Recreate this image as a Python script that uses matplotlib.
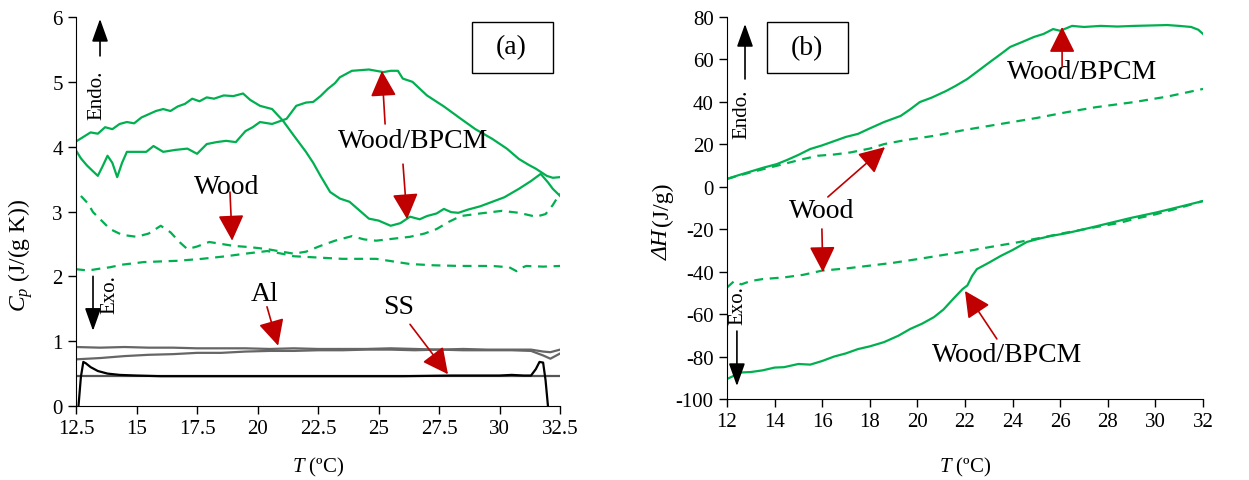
import matplotlib
matplotlib.use("Agg")
import matplotlib.pyplot as plt
from matplotlib.patches import Rectangle

plt.rcParams['font.family'] = ['Liberation Serif', 'DejaVu Serif']
plt.rcParams['mathtext.fontset'] = 'custom'
plt.rcParams['mathtext.rm'] = 'Liberation Serif'
plt.rcParams['mathtext.it'] = 'Liberation Serif:italic'
plt.rcParams['axes.unicode_minus'] = False

# ---- panel (a): Cp vs T ----
tA = [12.5,12.8,13.1,13.4,13.7,14.0,14.3,14.6,14.9,15.2,15.5,15.8,16.1,16.4,16.7,17.0,17.3,17.6,17.9,18.2,18.6,19.0,19.4,19.7,20.1,20.6,21.05,21.5,22.0,22.3,22.6,23.0,23.4,23.8,24.2,24.6,25.0,25.5,25.9,26.3,26.7,27.0,27.4,27.7,28.0,28.3,28.7,29.2,29.7,30.2,30.8,31.3,31.7,32.0,32.2,32.5]
cpA = [4.08,4.15,4.22,4.2,4.3,4.27,4.35,4.38,4.36,4.45,4.5,4.55,4.58,4.55,4.62,4.66,4.74,4.7,4.76,4.74,4.79,4.78,4.82,4.72,4.63,4.58,4.40,4.17,3.92,3.75,3.55,3.30,3.20,3.15,3.02,2.89,2.86,2.78,2.82,2.92,2.88,2.93,2.97,3.04,2.99,2.98,3.03,3.08,3.15,3.22,3.35,3.47,3.58,3.45,3.35,3.24]

tB = [12.5,12.7,12.95,13.2,13.4,13.6,13.8,14.0,14.2,14.4,14.6,15.0,15.4,15.7,16.1,16.6,17.1,17.5,17.9,18.3,18.7,19.1,19.5,19.8,20.1,20.6,21.2,21.6,22.0,22.3,22.6,22.9,23.2,23.4,23.9,24.6,25.2,25.5,25.8,26.0,26.4,27.0,27.7,28.4,29.0,29.7,30.3,30.8,31.2,31.5,31.95,32.2,32.5]
cpB = [3.94,3.82,3.71,3.62,3.55,3.7,3.86,3.75,3.53,3.75,3.92,3.92,3.92,4.01,3.92,3.95,3.97,3.89,4.04,4.07,4.09,4.07,4.24,4.3,4.38,4.35,4.43,4.63,4.68,4.69,4.78,4.89,4.98,5.07,5.17,5.19,5.15,5.17,5.17,5.05,5.0,4.79,4.62,4.43,4.27,4.12,3.97,3.81,3.72,3.66,3.55,3.52,3.53]

tW1 = [12.7,13.0,13.2,13.5,13.9,14.4,15.0,15.5,16.0,16.4,16.8,17.1,17.5,18.0,18.5,19.0,19.7,20.4,21.0,21.5,22.0,22.6,23.2,23.9,24.4,24.9,25.6,26.3,26.9,27.4,27.9,28.4,29.2,30.1,30.8,31.5,31.9,32.2,32.5]
cpW1 = [3.24,3.12,2.99,2.88,2.73,2.64,2.61,2.66,2.78,2.68,2.52,2.42,2.46,2.53,2.50,2.47,2.45,2.42,2.38,2.35,2.38,2.47,2.55,2.62,2.57,2.55,2.58,2.61,2.66,2.73,2.84,2.93,2.97,3.01,2.98,2.92,2.96,3.10,3.28]

tW2 = [12.5,13.0,13.5,13.9,14.4,15.3,16.0,16.7,17.7,18.7,19.5,20.4,21.0,21.5,22.5,23.5,24.9,25.6,26.3,27.3,28.4,29.7,30.4,30.7,30.9,31.1,31.8,32.5]
cpW2 = [2.11,2.09,2.12,2.14,2.18,2.22,2.23,2.24,2.27,2.31,2.35,2.39,2.35,2.31,2.29,2.27,2.27,2.23,2.19,2.17,2.16,2.16,2.14,2.08,2.13,2.16,2.15,2.16]

tAl = [12.5,13.5,14.5,15.5,16.5,17.5,18.5,19.5,20.5,21.5,22.5,23.5,24.5,25.5,26.5,27.5,28.5,29.5,30.5,31.3,31.8,32.1,32.5]
cpAl1 = [0.91,0.90,0.91,0.90,0.90,0.89,0.89,0.89,0.88,0.89,0.88,0.88,0.88,0.89,0.88,0.87,0.88,0.87,0.87,0.87,0.84,0.83,0.87]
cpAl2 = [0.72,0.74,0.77,0.79,0.80,0.82,0.82,0.84,0.85,0.85,0.86,0.86,0.87,0.87,0.86,0.87,0.86,0.86,0.86,0.85,0.78,0.73,0.81]

tSS1 = [12.6,12.7,12.8,12.9,13.1,13.4,13.8,14.3,15.0,16.0,18,20,22,24,26,28,30,30.5,31.0,31.3,31.5,31.65,31.8,31.9,32.0]
cpSS1 = [0.0,0.45,0.68,0.66,0.60,0.54,0.50,0.48,0.47,0.46,0.46,0.46,0.46,0.46,0.46,0.47,0.47,0.48,0.47,0.47,0.57,0.68,0.67,0.40,0.0]
tSS2 = [12.5,14,16,18,20,22,24,26,28,30,32,32.5]
cpSS2 = [0.46,0.46,0.46,0.46,0.46,0.46,0.46,0.46,0.46,0.46,0.46,0.46]

# ---- panel (b): dH vs T ----
tH1 = [12,12.5,13,13.5,14.1,14.5,15,15.5,16,16.5,17,17.5,18,18.6,19.3,19.7,20.1,20.6,21.2,21.6,22.1,22.6,23.05,23.5,23.9,24.4,24.9,25.3,25.7,26.0,26.5,27,27.7,28.4,29.1,29.8,30.5,31.0,31.5,31.8,32]
dH1 = [3.7,5.5,7.2,8.9,10.7,12.5,15.0,17.8,19.5,21.5,23.5,24.9,27.5,30.5,33.4,36.5,39.9,42.0,45.1,47.5,50.8,55.0,58.8,62.5,65.9,68.2,70.6,72.0,74.3,73.5,75.8,75.3,75.8,75.5,75.8,76.0,76.2,75.8,75.3,74.0,72.0]

tH2 = [12,13,14.1,15,15.8,16.5,17.2,18,18.6,19.5,20.7,22,23.5,25,26.3,27.5,29.1,30.5,32]
dH2 = [3.7,6.8,9.9,12.5,14.6,15.2,16.2,18.0,20.1,22.0,24.0,26.8,29.6,32.4,35.2,37.5,39.9,42.5,46.1]

tC1 = [12,12.3,12.6,13,13.5,14.4,15.2,16,17,17.9,19,20,21,22.1,23.1,24.2,25.2,26.3,27.5,28.5,29.1,30,31,32]
dC1 = [-47.5,-44.5,-46.0,-44.4,-43.5,-42.7,-41.5,-39.5,-38.5,-37.3,-35.8,-34.1,-32.3,-30.3,-28.3,-26.2,-24.0,-21.5,-19.0,-17.0,-15.2,-13.0,-10.0,-6.7]

tC2 = [12,12.3,12.6,13,13.5,14,14.4,15,15.5,16,16.5,17,17.5,18,18.6,19.2,19.7,20.2,20.7,21.1,21.5,21.9,22.1,22.3,22.5,23,23.5,24,24.6,25.1,25.6,26.3,27,28,29,30,31,32]
dC2 = [-90.6,-89,-87.5,-87.3,-86.5,-85.2,-85.0,-83.5,-83.8,-82.1,-80,-78.5,-76.5,-75.2,-73.2,-70.2,-67.0,-64.5,-61.4,-57.8,-52.9,-48.2,-46.5,-42,-38.8,-35.8,-32.6,-29.8,-26.0,-24.5,-23.2,-21.8,-20.0,-17.3,-14.6,-12.2,-9.5,-6.7]

green = '#00B050'
red = '#C00000'
tick_fs = 15
xlab_fs = 15
ylab_fs = 17
ann_fs = 20
lw = 1.6

fig = plt.figure(figsize=(12.49, 4.81), dpi=100)
ax1 = fig.add_axes([0.0609, 0.1538, 0.3875, 0.8088])
ax2 = fig.add_axes([0.582, 0.1684, 0.3812, 0.7942])

for ax in (ax1, ax2):
    ax.spines['right'].set_visible(False)
    ax.spines['top'].set_visible(False)
    ax.tick_params(direction='out', length=6, width=1, labelsize=tick_fs)


def red_arrow(ax, xy, xytext):
    ax.annotate('', xy=xy, xytext=xytext,
                arrowprops=dict(arrowstyle='-|>,head_length=0.8,head_width=0.4',
                                color=red, lw=1.2, mutation_scale=20,
                                shrinkA=0, shrinkB=0))


def black_arrow(ax, xy, xytext):
    ax.annotate('', xy=xy, xytext=xytext,
                arrowprops=dict(arrowstyle='-|>,head_length=0.7,head_width=0.25',
                                color='black', lw=1.2, mutation_scale=20,
                                shrinkA=0, shrinkB=0))


# (a)
ax1.plot(tA, cpA, color=green, lw=lw)
ax1.plot(tB, cpB, color=green, lw=lw)
ax1.plot(tW1, cpW1, color=green, lw=lw, ls=(0, (4, 3)))
ax1.plot(tW2, cpW2, color=green, lw=lw, ls=(0, (4, 3)))
ax1.plot(tAl, cpAl1, color='#666666', lw=lw)
ax1.plot(tAl, cpAl2, color='#666666', lw=lw)
ax1.plot(tSS2, cpSS2, color='#555555', lw=lw)
ax1.plot(tSS1, cpSS1, color='black', lw=lw)

ax1.set_xlim(12.5, 32.5)
ax1.set_ylim(0, 6)
ax1.set_xticks([12.5, 15, 17.5, 20, 22.5, 25, 27.5, 30, 32.5])
ax1.set_xticklabels(['12.5', '15', '17.5', '20', '22.5', '25', '27.5', '30', '32.5'])
ax1.set_yticks([0, 1, 2, 3, 4, 5, 6])
ax1.set_xlabel('$T$ (ºC)', fontsize=xlab_fs)
ax1.set_ylabel('$C_p$ (J/(g K))', fontsize=ylab_fs)
ax1.xaxis.set_label_coords(0.5, -0.126)
ax1.yaxis.set_label_coords(-0.085, 0.39)

ax1.add_patch(Rectangle((0.818, 0.856), 0.167, 0.131, transform=ax1.transAxes,
                        fill=False, ec='black', lw=1))
ax1.text(30.5, 5.54, '(a)', fontsize=ann_fs, ha='center', va='center')

ax1.text(26.43, 4.09, 'Wood/BPCM', fontsize=ann_fs, ha='center', va='center')
red_arrow(ax1, (25.14, 5.17), (25.27, 4.35))
red_arrow(ax1, (26.18, 2.88), (26.01, 3.73))
ax1.text(18.74, 3.39, 'Wood', fontsize=ann_fs, ha='center', va='center')
red_arrow(ax1, (18.95, 2.55), (18.86, 3.30))
ax1.text(20.31, 1.73, 'Al', fontsize=ann_fs, ha='center', va='center')
red_arrow(ax1, (20.85, 0.93), (20.39, 1.53))
ax1.text(25.81, 1.53, 'SS', fontsize=ann_fs, ha='center', va='center')
red_arrow(ax1, (27.87, 0.49), (26.30, 1.26))

ax1.text(13.37, 4.80, 'Endo.', fontsize=15, rotation=90, ha='center', va='center')
black_arrow(ax1, (13.49, 5.97), (13.49, 5.40))
ax1.text(13.9, 1.73, 'Exo.', fontsize=15, rotation=90, ha='center', va='center')
black_arrow(ax1, (13.2, 1.16), (13.2, 2.0))

# (b)
ax2.plot(tH1, dH1, color=green, lw=lw)
ax2.plot(tH2, dH2, color=green, lw=lw, ls=(0, (4, 3)))
ax2.plot(tC1, dC1, color=green, lw=lw, ls=(0, (4, 3)))
ax2.plot(tC2, dC2, color=green, lw=lw)

ax2.set_xlim(12, 32)
ax2.set_ylim(-100, 80)
ax2.set_xticks(range(12, 33, 2))
ax2.set_yticks(range(-100, 81, 20))
ax2.set_xlabel('$T$ (ºC)', fontsize=xlab_fs)
ax2.xaxis.set_label_coords(0.5, -0.147)
# y label in two parts so that the Delta H is italic
ax2.text(-0.113, 0.366, 'ΔH', fontsize=ylab_fs, fontstyle='italic', rotation=90,
         ha='right', va='bottom', transform=ax2.transAxes)
ax2.text(-0.113, 0.455, '(J/g)', fontsize=ylab_fs, rotation=90,
         ha='right', va='bottom', transform=ax2.transAxes)

ax2.add_patch(Rectangle((0.084, 0.853), 0.170, 0.134, transform=ax2.transAxes,
                        fill=False, ec='black', lw=1))
ax2.text(15.38, 65.6, '(b)', fontsize=ann_fs, ha='center', va='center')

ax2.text(26.92, 54.1, 'Wood/BPCM', fontsize=ann_fs, ha='center', va='center')
red_arrow(ax2, (26.08, 75.3), (26.08, 56.9))
ax2.text(15.99, -11.4, 'Wood', fontsize=ann_fs, ha='center', va='center')
red_arrow(ax2, (18.64, 18.7), (16.24, -4.8))
red_arrow(ax2, (16.03, -40.2), (15.99, -19.9))
ax2.text(23.76, -78.8, 'Wood/BPCM', fontsize=ann_fs, ha='center', va='center')
red_arrow(ax2, (22.0, -49.1), (23.34, -71.7))

ax2.text(12.63, 34.8, 'Endo.', fontsize=15, rotation=90, ha='center', va='center')
black_arrow(ax2, (12.76, 76.7), (12.76, 50.8))
ax2.text(12.46, -55.7, 'Exo.', fontsize=15, rotation=90, ha='center', va='center')
black_arrow(ax2, (12.42, -93.9), (12.42, -68))

fig.savefig('out.png', dpi=100)
